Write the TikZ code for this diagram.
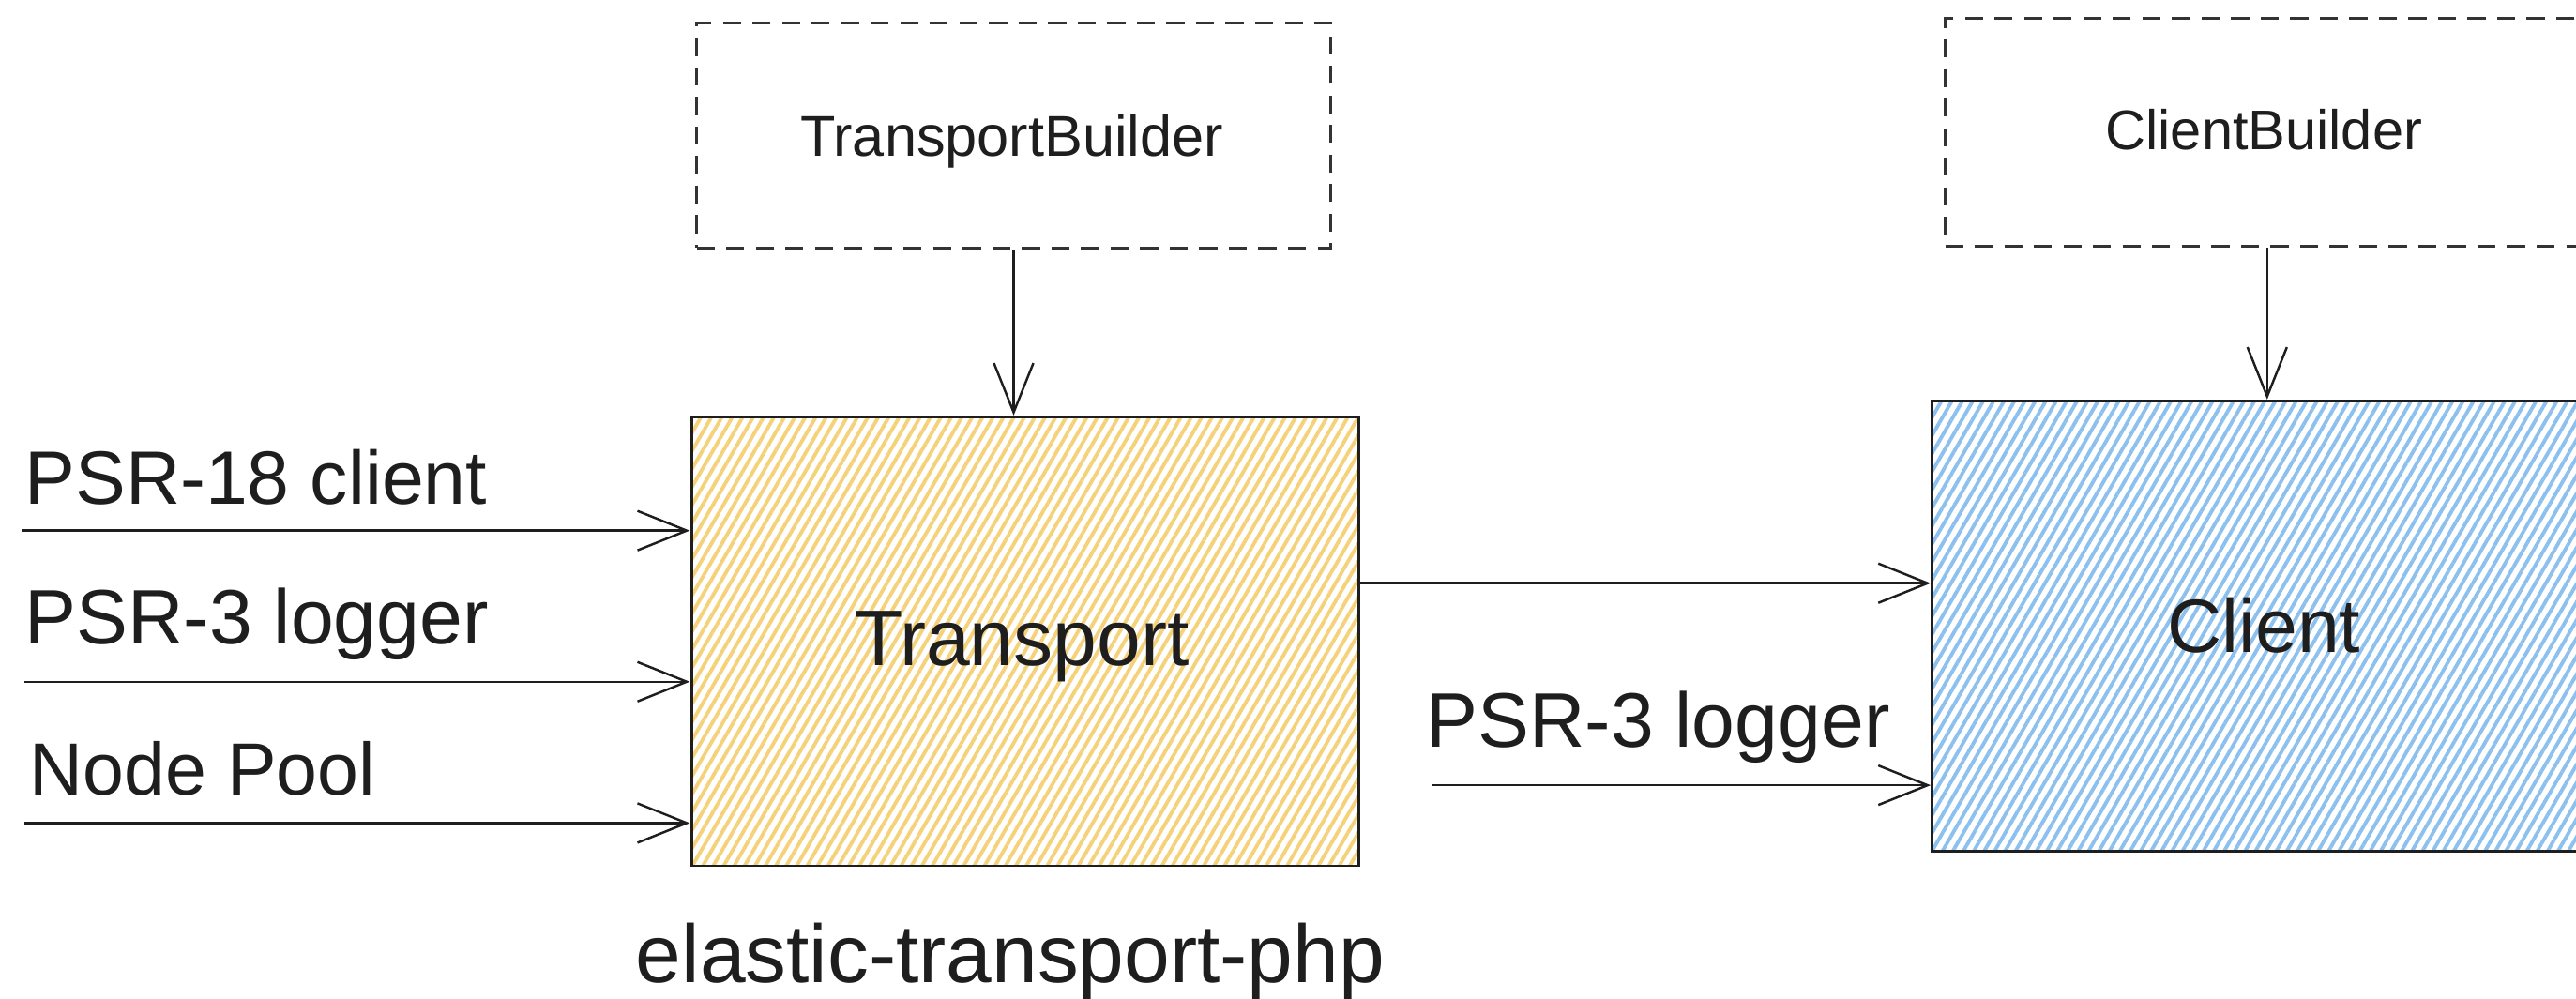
\documentclass[tikz,border=0pt]{standalone}
\usepackage{fontspec}
\setmainfont{Liberation Sans}
\usetikzlibrary{arrows.meta,patterns.meta}
\definecolor{ink}{HTML}{1E1E1E}
\definecolor{dashink}{HTML}{333333}
\definecolor{hatchY}{HTML}{F5D27A}
\definecolor{hatchB}{HTML}{8CC0EE}
\tikzset{
  fs/.style={font=\fontsize{#1}{#1}\selectfont},
  txt/.style={text=ink, inner sep=0pt, anchor=base},
  dashbox/.style={draw=dashink, line width=1.7pt, dash pattern=on 11pt off 7pt, inner sep=0pt},
  mainbox/.style={draw=ink, line width=1.6pt, inner sep=0pt},
  ybox/.style={mainbox, pattern={Lines[angle=60,distance=5.5pt,line width=2.2pt]}, pattern color=hatchY},
  bbox/.style={mainbox, pattern={Lines[angle=60,distance=5.5pt,line width=2.2pt]}, pattern color=hatchB},
  arr/.style={draw=ink, line width=1.4pt, -{Straight Barb[length=30pt,width=24pt,line width=1.4pt]}},
}
\begin{document}
\begin{tikzpicture}[x=1pt,y=-1pt]
\useasboundingbox (0,0) rectangle (1568,608);
% builder boxes
\node[dashbox, minimum width=386pt, minimum height=137pt] (tb) at (617,82.5) {};
\node[dashbox, minimum width=392pt, minimum height=139pt] (cb) at (1380,80.5) {};
\node[txt, fs=35] (tbl) at (616,95) {TransportBuilder};
\node[txt, fs=34] (cbl) at (1378,91) {ClientBuilder};
% main boxes
\node[ybox, minimum width=406pt, minimum height=273pt] (tr) at (624,390.5) {};
\node[bbox, minimum width=404pt, minimum height=274pt] (cl) at (1378,381) {};
\node[txt, fs=48] (trl) at (622,405) {Transport};
\node[txt, fs=46] (cll) at (1378,397) {Client};
\node[txt, fs=50] (pkg) at (615,598) {elastic-transport-php};
% builder arrows
\draw[arr] (tb.south) -- (tb.south |- tr.north);
\draw[arr] (cb.south) -- (cb.south |- cl.north);
% left inputs
\coordinate (i1) at (13,323);
\coordinate (i2) at (15,415);
\coordinate (i3) at (15,501);
\draw[arr] (i1) -- (i1 -| tr.west);
\draw[arr] (i2) -- (i2 -| tr.west);
\draw[arr] (i3) -- (i3 -| tr.west);
\node[txt, fs=46, anchor=base west] (l1) at (15,307) {PSR-18 client};
\node[txt, fs=47, anchor=base west] (l2) at (15,392) {PSR-3 logger};
\node[txt, fs=45, anchor=base west] (l3) at (18,484) {Node Pool};
% transport to client
\coordinate (o1) at (tr.east |- 0,355);
\draw[arr] (o1) -- (o1 -| cl.west);
\coordinate (i4) at (872,478);
\draw[arr] (i4) -- (i4 -| cl.west);
\node[txt, fs=47, anchor=base west] (l4) at (868,455) {PSR-3 logger};
\end{tikzpicture}
\end{document}
